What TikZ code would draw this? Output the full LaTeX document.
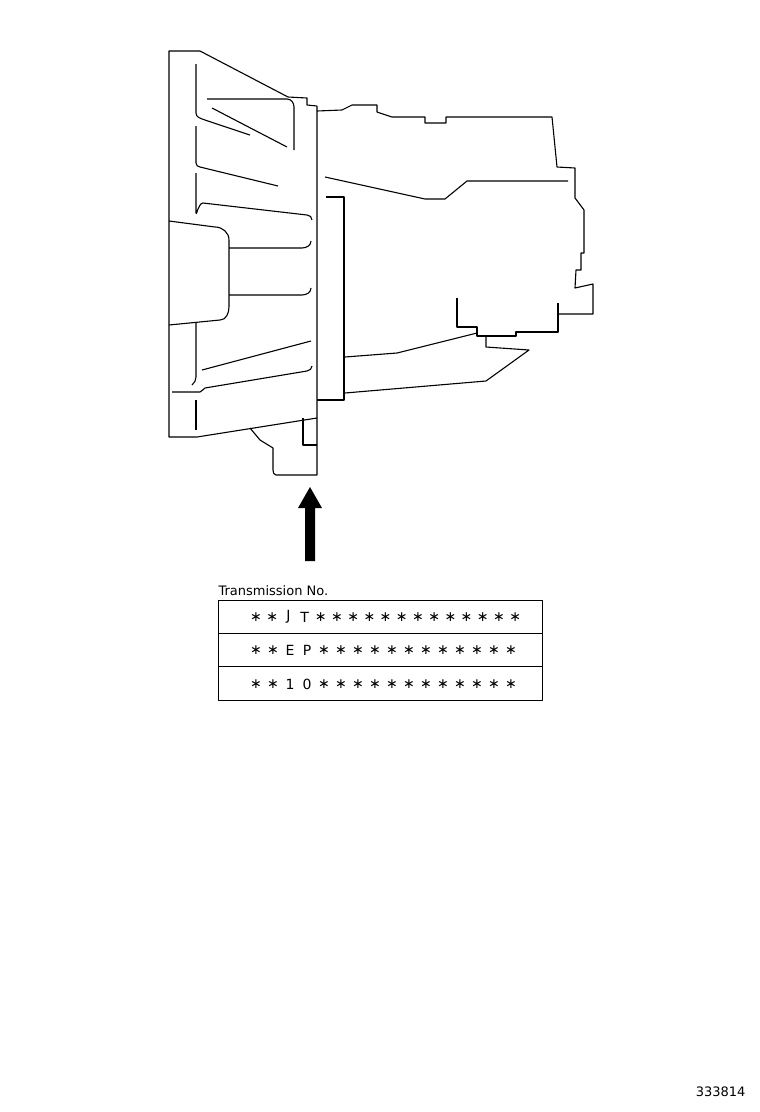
\documentclass[tikz,border=0pt]{standalone}
\usepackage{fontspec}
\setmainfont{DejaVu Sans}
\begin{document}
\begin{tikzpicture}[x=1pt,y=-1pt,line width=1.1pt,line join=round,
  lbl/.style={inner sep=0pt,font=\fontsize{13}{13}\selectfont},
  ch/.style={inner sep=0pt,font=\fontsize{14}{14}\selectfont}]
\useasboundingbox (0,0) rectangle (760,1112);
% main front housing
\draw (200,51) -- (169,51) -- (169,437) -- (197,437) -- (317,418);
\draw (200,51) -- (288,97) -- (307,98) -- (307,105) -- (317,106);
\draw (317,106) -- (317,475) -- (276,475) to[out=180,in=-90] (273,470) -- (273,448) -- (260,440) -- (250,428);
\draw (303,418) -- (303,445) -- (317,445);
% ribs
\draw (196,64) -- (196,113) to[out=-90,in=160] (205,120) -- (250,135);
\draw (207,99) -- (287,99) to[out=0,in=90] (294,107) -- (294,150);
\draw (212,108) -- (287,147);
\draw (196,126) -- (196,163) to[out=-90,in=175] (200,167) -- (278,186);
\draw (196,173) -- (196,213) to[out=-90,in=180] (203,203) -- (307,215) to[out=0,in=90] (312,220);
\draw (169,221) -- (215,227) to[out=0,in=90] (229,240) -- (229,307) to[out=-90,in=0] (220,320) -- (169,325);
\draw (229,248) -- (302,248) to[out=0,in=-90] (311,241);
\draw (229,295) -- (302,295) to[out=0,in=-90] (311,288);
\draw (196,323) -- (196,377) to[out=-90,in=45] (192,385);
\draw (202,370) -- (311,341);
\draw (172,392) -- (200,392) to[out=0,in=190] (205,388) -- (307,371) to[out=10,in=-90] (312,366);
\draw (196,400) -- (196,430);
% flange plate
\draw (326,197) -- (344,197) -- (344,400) -- (317,400);
% rear case
\draw (317,111) -- (342,110) -- (352,105) -- (377,105) -- (377,112) -- (392,117) -- (425,117) -- (425,123) -- (446,123) -- (446,117) -- (552,117) -- (557,167) -- (575,168) -- (575,198) -- (584,210) -- (584,253) -- (581,253) -- (581,270) -- (576,270) -- (575,288) -- (593,284) -- (593,314) -- (558,314);
\draw (558,303) -- (558,332) -- (516,332) -- (516,336) -- (477,336) -- (477,327) -- (457,327) -- (457,298);
\draw (486,336) -- (486,347) -- (529,350) -- (486,381) -- (345,393);
\draw (345,357) -- (397,353) -- (477,333);
\draw (325,177) -- (425,199) -- (445,199) -- (467,181) -- (568,181);
% arrow
\node (tip) at (310,486) {};
\coordinate (tail) at (310,561);
\fill (tail) ++(-5,0) -- ++(0,-53) -- ++(-7,0) -- (310,487) -- (322,508) -- ++(-7,0) -- ++(0,53) -- cycle;
% table
\node[lbl,anchor=south west] (title) at (218,596) {Transmission No.};
\draw[line width=1pt] (218,600) rectangle (542,700);
\draw[line width=1pt] (218,633) -- (542,633) (218,666) -- (542,666);
\foreach \c [count=\i from 0] in {∗,∗,J,T,∗,∗,∗,∗,∗,∗,∗,∗,∗,∗,∗,∗,∗}
  \node[ch] (a\i) at (256+\i*16.2,617) {\c};
\foreach \c [count=\i from 0] in {∗,∗,E,P,∗,∗,∗,∗,∗,∗,∗,∗,∗,∗,∗,∗}
  \node[ch] (b\i) at (256+\i*17,650) {\c};
\foreach \c [count=\i from 0] in {∗,∗,1,0,∗,∗,∗,∗,∗,∗,∗,∗,∗,∗,∗,∗}
  \node[ch] (c\i) at (256+\i*17,684) {\c};
\node[lbl,anchor=east] (code) at (746,1092) {333814};
\end{tikzpicture}
\end{document}
